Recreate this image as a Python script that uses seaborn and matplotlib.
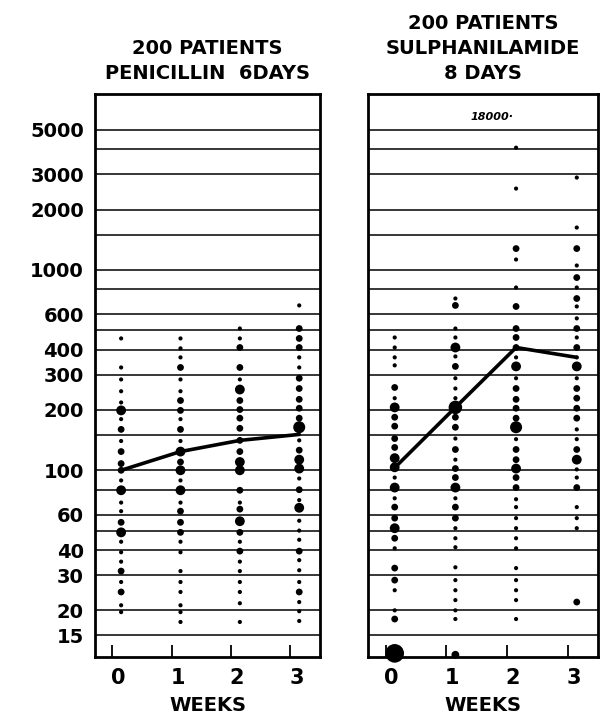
import numpy as np
import pandas as pd
import matplotlib
matplotlib.use("Agg")
import matplotlib.pyplot as plt
import matplotlib.transforms as mtransforms
from matplotlib.ticker import NullLocator
import seaborn as sns

sns.set_theme(style="white")
plt.rcParams["font.family"] = ["DejaVu Sans"]
plt.rcParams["text.color"] = "black"
plt.rcParams["axes.labelcolor"] = "black"
plt.rcParams["xtick.color"] = "black"
plt.rcParams["ytick.color"] = "black"

# ---- data (titre values and number of patients per dot) ----
pen_w0_titre = [455, 326, 284, 248, 218, 199, 180, 160, 140, 124, 108, 100, 89, 79.5,
                69, 62.5, 55, 49, 44, 39, 35, 31.4, 27.7, 24.7, 21.2, 19.6]
pen_w0_n = [1, 1, 1, 1, 1, 4, 1, 2, 1, 2, 2, 2, 1, 4, 1, 1, 2, 4, 1, 1, 1, 2, 1, 2, 1, 1]

pen_w1_titre = [455, 406, 366, 326, 284, 248, 223, 199, 180, 160, 140, 124, 110, 100,
                89, 79.5, 69, 62.5, 55, 49, 44, 39, 31.4, 27.7, 24.7, 21.2, 19.6, 17.5]
pen_w1_n = [1, 1, 1, 2, 1, 1, 2, 2, 1, 2, 1, 4, 2, 4, 1, 4, 1, 2, 2, 2, 1, 1, 1, 1, 1, 1, 1, 1]

pen_w2_titre = [510, 455, 410, 326, 284, 253, 223, 201, 182, 162, 141, 124, 110, 100,
                79.5, 69, 64, 55.7, 49, 44, 39.5, 35, 31.4, 27.7, 24.7, 21.7, 17.5]
pen_w2_n = [1, 1, 2, 2, 1, 4, 2, 2, 2, 2, 2, 2, 4, 4, 2, 1, 2, 4, 2, 1, 2, 1, 1, 1, 1, 1, 1]

pen_w3_titre = [665, 510, 455, 410, 366, 326, 288, 256, 226, 204, 182, 164, 141, 126,
                113, 102, 91, 80, 71, 65, 56, 50, 45, 39.5, 35.6, 31.7, 27.7, 24.7,
                22, 19.8, 17.7]
pen_w3_n = [1, 2, 2, 2, 1, 1, 2, 2, 2, 2, 2, 6, 1, 2, 4, 4, 1, 2, 1, 4, 1, 1, 1, 2, 1,
            1, 1, 2, 1, 1, 1]

sul_w0_titre = [460, 410, 366, 334, 259, 229, 206, 184, 166, 144, 130, 115, 103.5, 92,
                82, 72.5, 65.5, 57.7, 51.4, 45.8, 40.8, 32.5, 28.3, 25.2, 20, 18.1, 12.2]
sul_w0_n = [1, 1, 1, 1, 2, 1, 4, 2, 2, 2, 2, 4, 4, 1, 4, 1, 2, 2, 4, 2, 1, 2, 2, 1, 1, 2, 10]

sul_w1_titre = [720, 665, 510, 460, 410, 370, 330, 288, 256, 229, 206, 184, 164, 144,
                127, 113, 102, 92, 82, 72.5, 65.5, 57.7, 51.4, 45.8, 41.3, 32.8, 28.3,
                25.2, 22.5, 20, 18.1, 12]
sul_w1_n = [1, 2, 1, 1, 4, 1, 2, 1, 1, 1, 8, 2, 2, 1, 2, 1, 2, 2, 4, 1, 2, 2, 1, 1, 1,
            1, 1, 1, 1, 1, 1, 3]

sul_w2_titre = [4074, 2547, 1278, 1127, 817, 657, 510, 460, 410, 366, 330, 288, 256,
                226, 204, 182, 164, 143, 127, 113, 102, 92, 82, 71.7, 65.5, 57.7, 51.4,
                45.8, 40.8, 32.5, 28.3, 25.2, 22.5, 18.1]
sul_w2_n = [1, 1, 2, 1, 1, 2, 2, 2, 2, 1, 4, 1, 2, 2, 2, 2, 6, 1, 2, 2, 4, 2, 2, 1, 1,
            1, 1, 1, 1, 1, 1, 1, 1, 1]

sul_w3_titre = [2890, 1627, 1278, 1052, 916, 817, 720, 657, 573, 510, 460, 410, 366,
                330, 288, 256, 229, 204, 182, 160, 143, 127, 113, 101, 92, 82, 65.5,
                57.7, 51.4, 22]
sul_w3_n = [1, 1, 2, 1, 2, 1, 2, 1, 1, 2, 1, 2, 1, 4, 1, 2, 2, 2, 2, 1, 1, 2, 4, 1, 1,
            2, 1, 1, 1, 2]

weeks = [0, 1, 2, 3]
pen_mean = [100, 124, 141, 151]
sul_mean = [103, 206, 410, 366]

grid_values = [15, 20, 30, 40, 50, 60, 80, 100, 150, 200, 300, 400, 500, 600, 800,
               1000, 1500, 2000, 3000, 4000, 5000]
tick_values = [15, 20, 30, 40, 60, 100, 200, 300, 400, 600, 1000, 2000, 3000, 5000]

titles = ["200 PATIENTS\nPENICILLIN  6DAYS", "200 PATIENTS\nSULPHANILAMIDE\n8 DAYS"]


def build_frame(titres, counts):
    rows = []
    for w, t, n in zip(weeks, titres, counts):
        for v, c in zip(t, n):
            rows.append({"week": w + 0.15, "titre": v, "n": c})
    return pd.DataFrame(rows)


pen_df = build_frame([pen_w0_titre, pen_w1_titre, pen_w2_titre, pen_w3_titre],
                     [pen_w0_n, pen_w1_n, pen_w2_n, pen_w3_n])
sul_df = build_frame([sul_w0_titre, sul_w1_titre, sul_w2_titre, sul_w3_titre],
                     [sul_w0_n, sul_w1_n, sul_w2_n, sul_w3_n])

SIZE_MAP = {1: 9, 2: 24, 3: 32, 4: 50, 6: 75, 8: 95, 10: 180}

fig = plt.figure(figsize=(6.08, 7.16), dpi=100)
ax1 = fig.add_axes([95 / 608, 1 - 657 / 716, 225 / 608, 563 / 716])
ax2 = fig.add_axes([368 / 608, 1 - 657 / 716, 230 / 608, 563 / 716])

for ax, df, means, title in [(ax1, pen_df, pen_mean, titles[0]),
                             (ax2, sul_df, sul_mean, titles[1])]:
    ax.set_yscale("log")
    for g in grid_values:
        ax.axhline(g, color="black", linewidth=1.1, zorder=1)
    sns.scatterplot(data=df, x="week", y="titre", size="n", sizes=SIZE_MAP,
                    color="black", edgecolor="none", legend=False, ax=ax,
                    zorder=3, clip_on=False)
    sns.lineplot(x=[w + 0.15 for w in weeks], y=means, color="black",
                 linewidth=2.6, ax=ax, zorder=4)
    ax.set_ylim(11.7, 7550)
    ax.set_xlim(-0.29, 3.5)
    ax.yaxis.set_minor_locator(NullLocator())
    for s in ax.spines.values():
        s.set_color("black")
        s.set_linewidth(2)
    ax.set_xticks(weeks)
    ax.set_xticklabels([str(w) for w in weeks], fontsize=15, fontweight="bold")
    ax.tick_params(axis="x", direction="in", length=9, width=1.3, color="black",
                   pad=8, bottom=True)
    offset = mtransforms.ScaledTranslation(6 / 100, 0, fig.dpi_scale_trans)
    for lbl in ax.get_xticklabels():
        lbl.set_transform(lbl.get_transform() + offset)
    ax.set_xlabel("WEEKS", fontsize=14, fontweight="bold", labelpad=6)
    ax.set_ylabel("")
    ax.set_title(title, fontsize=14, fontweight="bold", linespacing=1.4, pad=11)

ax1.set_yticks(tick_values)
ax1.set_yticklabels([str(v) for v in tick_values], fontsize=14, fontweight="bold")
ax1.tick_params(axis="y", length=0, pad=8)
ax2.set_yticks([])

ax2.text(1.75, 5800, "18000·", fontsize=8, fontstyle="italic", fontweight="bold",
         ha="center", va="center", color="black")

fig.savefig("out.png", dpi=100)
